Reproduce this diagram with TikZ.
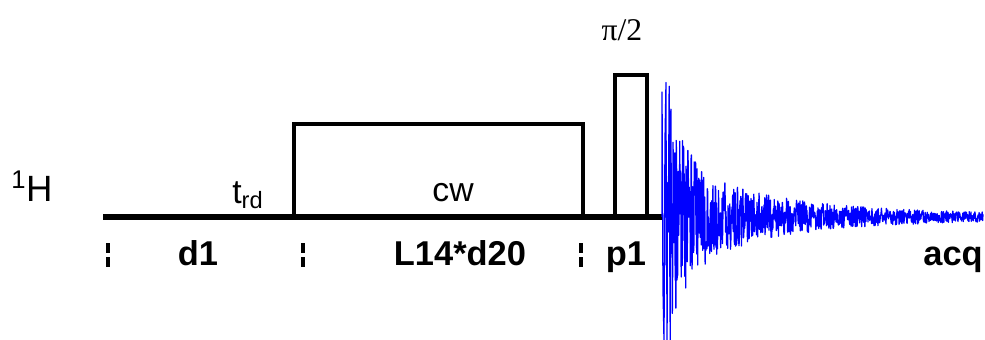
\documentclass[tikz,border=0pt]{standalone}
\usepackage{fontspec}
\setmainfont{Liberation Sans}
\newfontfamily\pifont{Liberation Serif}
\usetikzlibrary{positioning,calc}
\definecolor{cB}{HTML}{0000FF}
\tikzset{
  chan/.style={line width=4.6pt},
  pulse/.style={line width=2.5pt,line join=miter},
  tick/.style={line width=2.4pt,dash pattern=on 7.4pt off 2.6pt on 7.4pt},
  txt/.style={inner sep=0pt,anchor=base,font=\fontsize{24}{28}\selectfont},
  lbl/.style={inner sep=0pt,anchor=base,font=\fontsize{24.5}{28}\selectfont\bfseries},
  fid/.style={cB,line width=0.9pt,line join=round},
}

\begin{document}
\begin{tikzpicture}[x=0.25mm,y=-0.25mm]
  \useasboundingbox (0,0) rectangle (985,340);
  % proton channel
  \coordinate (b0) at (103,217);
  \coordinate (b1) at (662,217);
  \draw[chan] (b0) -- (b1);
  % cw block and pi/2 pulse
  \coordinate (cw0) at (294,217);
  \coordinate (cw1) at (583,124);
  \draw[pulse] (cw0) |- (cw1) -- (cw1 |- cw0);
  \coordinate (p0) at (615,217);
  \coordinate (p1) at (647,75);
  \draw[pulse] (p0) |- (p1) -- (p1 |- p0);
  % delay separators
  \foreach \x in {108,303,581}{
     \draw[tick] (\x,243) -- (\x,268);}
  % labels
  \node[txt,anchor=base west,font=\fontsize{26}{30}\selectfont] (nucl) at (11,201){\textsuperscript{1}H};
  \node[txt,anchor=base west] (trd) at (232,203){t\textsubscript{rd}};
  \node[txt] (cwl) at (453,201){cw};
  \node[txt,font=\pifont\fontsize{22.5}{26}\selectfont] (pil) at (622,40){π/2};
  \node[lbl] (ld1) at (198,265){d1};
  \node[lbl] (lloop) at (460,265){L14*d20};
  \node[lbl] (lp1) at (626,265){p1};
  \node[lbl,anchor=base east] (lacq) at (983,265){acq};
  % FID
  \pgfmathsetseed{4711}
  \draw[fid] (b1) -- (662,92) -- (663,290) -- (664,340) -- (665,140)
    -- plot[domain=666:983,samples=900]
       (\x,{217+(120*exp(-(\x-662)/14)+62*exp(-(\x-662)/90)+3.5)*rand});
\end{tikzpicture}
\end{document}
